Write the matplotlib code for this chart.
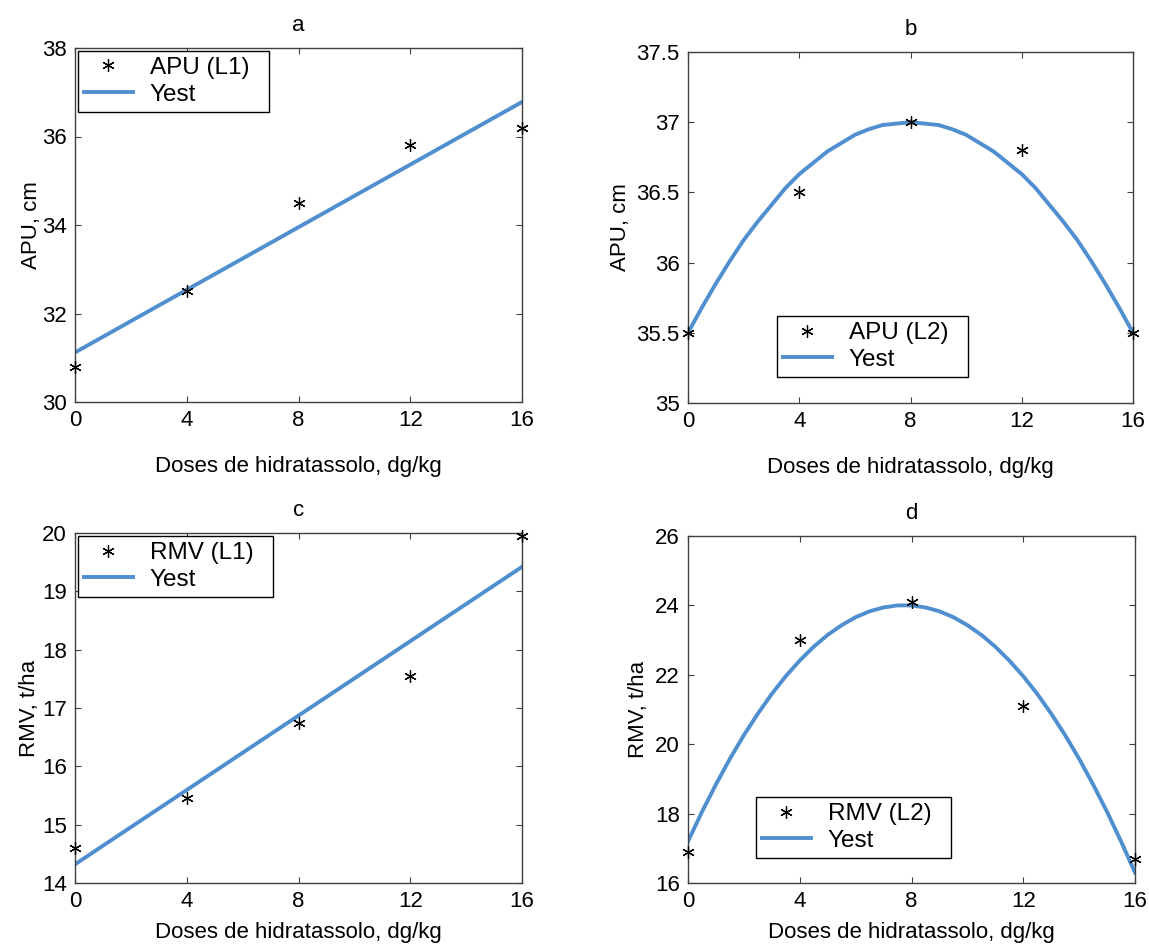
import matplotlib
matplotlib.use('Agg')
import matplotlib.pyplot as plt
import numpy as np

plt.rcParams['font.family'] = ['Liberation Sans', 'DejaVu Sans']
plt.rcParams['font.size'] = 16

# doses (x)
doses = [0, 4, 8, 12, 16]
xticks = [0, 4, 8, 12, 16]
x_curve = [i * 0.5 for i in range(33)]

# a: APU (L1) with linear estimate
apu_l1 = [30.8, 32.5, 34.5, 35.8, 36.2]
apu_l1_est_x = [0, 16]
apu_l1_est = [31.12, 36.78]

# b: APU (L2) with quadratic estimate (every 0.5)
apu_l2 = [35.5, 36.5, 37.0, 36.8, 35.5]
apu_l2_est = [35.50, 35.68, 35.85, 36.01, 36.16, 36.29, 36.41, 36.53, 36.63,
              36.71, 36.79, 36.85, 36.91, 36.95, 36.98, 36.99, 37.00,
              36.99, 36.98, 36.95, 36.91, 36.85, 36.79, 36.71, 36.63,
              36.53, 36.41, 36.29, 36.16, 36.01, 35.85, 35.68, 35.50]

# c: RMV (L1) with linear estimate
rmv_l1 = [14.6, 15.45, 16.75, 17.55, 19.95]
rmv_l1_est_x = [0, 16]
rmv_l1_est = [14.32, 19.42]

# d: RMV (L2) with quadratic estimate (every 0.5)
rmv_l2 = [16.9, 23.0, 24.1, 21.1, 16.7]
rmv_l2_est = [17.20, 18.05, 18.84, 19.58, 20.26, 20.88, 21.45, 21.96, 22.41,
              22.81, 23.15, 23.43, 23.66, 23.83, 23.94, 24.00, 24.00,
              23.94, 23.83, 23.66, 23.43, 23.15, 22.81, 22.41, 21.96,
              21.45, 20.88, 20.26, 19.58, 18.84, 18.05, 17.20, 16.30]

blue = '#4f8fd0'
star = (6, 2, 0)

fig = plt.figure(figsize=(11.49, 9.48), dpi=100)
W, H = 1149, 948

def box(l, t, r, b):
    return [l / W, 1 - b / H, (r - l) / W, (b - t) / H]

axa = fig.add_axes(box(75, 48, 522, 402))
axb = fig.add_axes(box(688, 52, 1133, 403))
axc = fig.add_axes(box(75, 533, 522, 883))
axd = fig.add_axes(box(688, 536, 1135, 883))

panels = [
    (axa, 'a', apu_l1, apu_l1_est_x, apu_l1_est, 'APU (L1)', 'APU, cm', (30, 38), np.arange(30, 38.1, 2), 'upper left', None, 18, 0),
    (axb, 'b', apu_l2, x_curve, apu_l2_est, 'APU (L2)', 'APU, cm', (35, 37.5), np.arange(35, 37.6, 0.5), 'lower left', (0.2, 0.074), 18, 4),
    (axc, 'c', rmv_l1, rmv_l1_est_x, rmv_l1_est, 'RMV (L1)', 'RMV, t/ha', (14, 20), np.arange(14, 20.1, 1), 'upper left', None, 7, 1),
    (axd, 'd', rmv_l2, x_curve, rmv_l2_est, 'RMV (L2)', 'RMV, t/ha', (16, 26), np.arange(16, 26.1, 2), 'lower left', (0.152, 0.072), 7, 4),
]

for ax, title, pts, ex, ey, lab, ylab, ylim, yt, loc, anchor, xpad, ypad in panels:
    ax.plot(doses, pts, linestyle='none', marker=star, markersize=9,
            markeredgewidth=0.9, color='black', label=lab + '  ', clip_on=False, zorder=3)
    ax.plot(ex, ey, color=blue, linewidth=2.8, label='Yest', zorder=2)
    ax.set_xlim(0, 16)
    ax.set_ylim(*ylim)
    ax.set_xticks(xticks)
    ax.set_yticks(yt)
    ax.set_yticklabels(['%g' % v for v in yt])
    ax.tick_params(direction='in', top=True, right=True, length=4, width=0.8,
                   color='#404040', pad=6)
    for s in ax.spines.values():
        s.set_color('#404040')
        s.set_linewidth(1.0)
    ax.set_title(title, fontsize=16, pad=12)
    ax.set_xlabel('Doses de hidratassolo, dg/kg', labelpad=xpad)
    ax.set_ylabel(ylab, labelpad=ypad)
    kw = dict(fancybox=False, edgecolor='black', framealpha=1, fontsize=17.5,
              handlelength=2.0, handletextpad=0.7, labelspacing=0.2, borderpad=0.25)
    if anchor is None:
        leg = ax.legend(loc=loc, borderaxespad=0.12, **kw)
    else:
        leg = ax.legend(loc=loc, bbox_to_anchor=anchor, borderaxespad=0, **kw)
    leg.get_frame().set_linewidth(1.0)

plt.savefig('out.png', dpi=100)
